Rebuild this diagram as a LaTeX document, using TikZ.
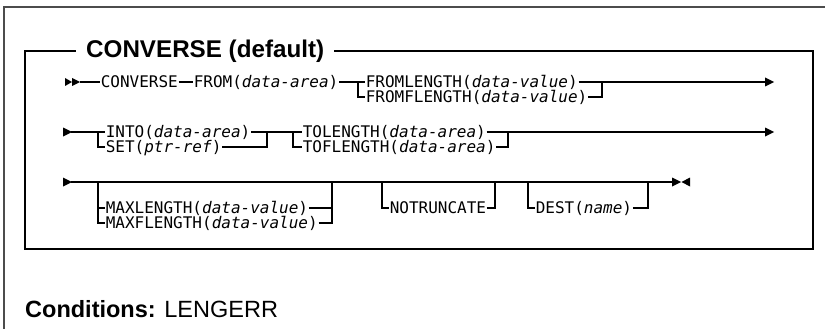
\documentclass[tikz,border=0pt]{standalone}
\usepackage{fontspec}
\setmainfont{Liberation Sans}
\newfontfamily\dmono{DejaVu Sans Mono}
\usetikzlibrary{calc}
\begin{document}
\begin{tikzpicture}[x=1pt,y=-1pt,
  rail/.style={line width=1.1pt},
  kw/.style={anchor=west, inner xsep=0.6pt, inner ysep=0pt, text height=11.7pt, text depth=0pt, font=\dmono\fontsize{16}{19}\selectfont},
  frame/.style={line width=1.5pt, color=black!70},
  box/.style={line width=1.4pt},
  ]
\useasboundingbox (0,0) rectangle (825,329);
% outer frame
\coordinate (fo1) at (4,329); \coordinate (fo2) at (4,7); \coordinate (fo3) at (825,7);
\draw[frame] (fo1) -- (fo2) -- (fo3);
% inner box
\coordinate (bx1) at (25,51); \coordinate (bx2) at (813,249);
\draw[box] (bx1) rectangle (bx2);
\node[fill=white, inner xsep=10pt, inner ysep=2pt, anchor=base west, font=\bfseries\fontsize{24.2}{27}\selectfont] (title) at (76,58) {CONVERSE (default)};

% ---------- row 1
\fill (65,78) -- (72,82) -- (65,86) -- cycle;
\fill (72,78) -- (80,82) -- (72,86) -- cycle;
\coordinate (r1s) at (80,82);
\node[kw] (conv) at (100,82) {CONVERSE};
\node[kw] (from) at (193,82) {FROM(\textit{data-area})};
\coordinate (b1) at (358,82); \coordinate (b1d) at (358,97);
\node[kw] (fl) at (365,82) {FROMLENGTH(\textit{data-value})};
\node[kw] (ffl) at (365,97) {FROMFLENGTH(\textit{data-value})};
\coordinate (m1) at (602,82); \coordinate (m1d) at (602,97);
\coordinate (e1) at (767,82);
\draw[rail] (r1s) -- (conv.west);
\draw[rail] (conv.east) -- (from.west);
\draw[rail] (from.east) -- (b1) -- (fl.west);
\draw[rail] (b1) -- (b1d) -- (ffl.west);
\draw[rail] (fl.east) -- (e1);
\draw[rail] (ffl.east) -- (m1d) -- (m1);
\fill (765,77.5) -- (774,82) -- (765,86.5) -- cycle;

% ---------- row 2
\fill (63,127.5) -- (72,132) -- (63,136.5) -- cycle;
\coordinate (r2s) at (71,132);
\coordinate (b2) at (98,132); \coordinate (b2d) at (98,147);
\node[kw] (into) at (105,132) {INTO(\textit{data-area})};
\node[kw] (set) at (105,147) {SET(\textit{ptr-ref})};
\coordinate (m2) at (267,132); \coordinate (m2d) at (267,147);
\coordinate (b3) at (293,132); \coordinate (b3d) at (293,147);
\node[kw] (tol) at (302,132) {TOLENGTH(\textit{data-area})};
\node[kw] (tofl) at (302,147) {TOFLENGTH(\textit{data-area})};
\coordinate (m3) at (508,132); \coordinate (m3d) at (508,147);
\coordinate (e2) at (767,132);
\draw[rail] (r2s) -- (b2) -- (into.west);
\draw[rail] (b2) -- (b2d) -- (set.west);
\draw[rail] (into.east) -- (b3) -- (tol.west);
\draw[rail] (set.east) -- (m2d) -- (m2);
\draw[rail] (b3) -- (b3d) -- (tofl.west);
\draw[rail] (tol.east) -- (e2);
\draw[rail] (tofl.east) -- (m3d) -- (m3);
\fill (765,127.5) -- (774,132) -- (765,136.5) -- cycle;

% ---------- row 3
\fill (63,177.5) -- (72,182) -- (63,186.5) -- cycle;
\coordinate (r3s) at (71,182);
\coordinate (e3) at (672,182);
\draw[rail] (r3s) -- (e3);
\coordinate (b4) at (98,182); \coordinate (b4m) at (98,208); \coordinate (b4d) at (98,223);
\node[kw] (maxl) at (105,208) {MAXLENGTH(\textit{data-value})};
\node[kw] (maxfl) at (105,223) {MAXFLENGTH(\textit{data-value})};
\coordinate (m4) at (332,182); \coordinate (m4m) at (332,208); \coordinate (m4d) at (332,223);
\draw[rail] (b4) -- (b4d) -- (maxfl.west);
\draw[rail] (b4m) -- (maxl.west);
\draw[rail] (maxl.east) -- (m4m);
\draw[rail] (maxfl.east) -- (m4d) -- (m4);
\coordinate (n1) at (382,182); \coordinate (n1d) at (382,208);
\node[kw] (notr) at (389,208) {NOTRUNCATE};
\coordinate (n2) at (495,182); \coordinate (n2d) at (495,208);
\draw[rail] (n1) -- (n1d) -- (notr.west);
\draw[rail] (notr.east) -- (n2d) -- (n2);
\coordinate (d1) at (528,182); \coordinate (d1d) at (528,208);
\node[kw] (dest) at (535,208) {DEST(\textit{name})};
\coordinate (d2) at (648,182); \coordinate (d2d) at (648,208);
\draw[rail] (d1) -- (d1d) -- (dest.west);
\draw[rail] (dest.east) -- (d2d) -- (d2);
\fill (672,177.5) -- (681,182) -- (672,186.5) -- cycle;
\fill (690,177.5) -- (681.5,182) -- (690,186.5) -- cycle;

% ---------- conditions
\node[anchor=base west, inner sep=0pt, font=\fontsize{23.5}{27}\selectfont] (cond) at (25,317) {\textbf{Conditions:} LENGERR};
\end{tikzpicture}
\end{document}
